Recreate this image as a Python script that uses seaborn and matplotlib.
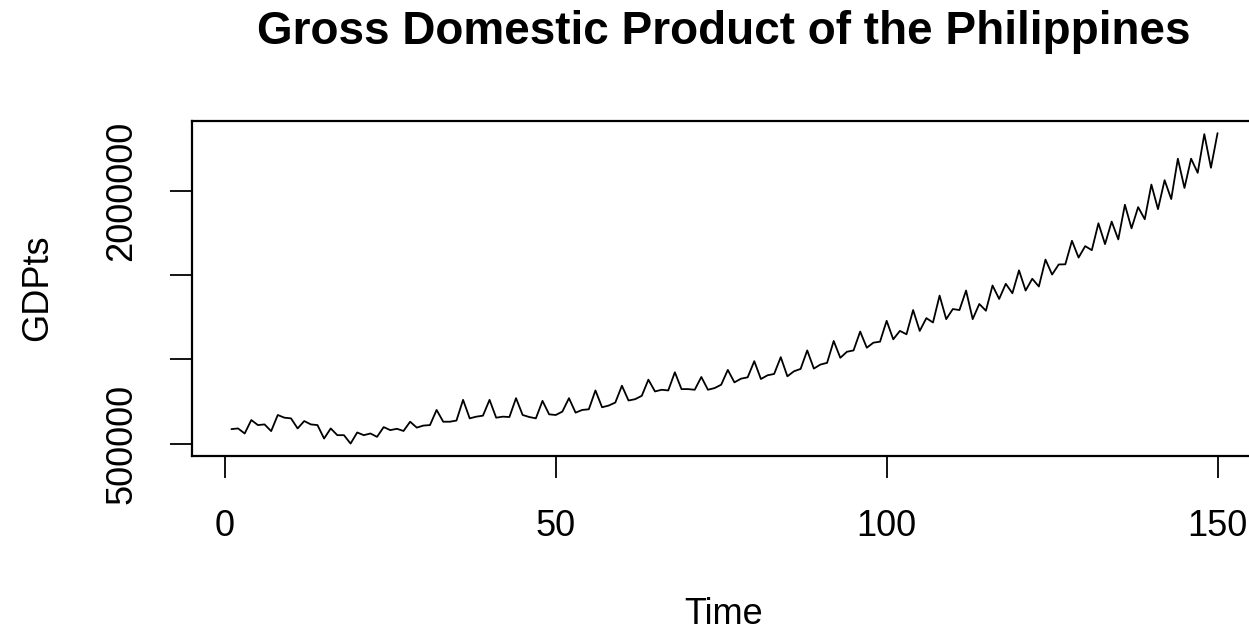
import numpy as np
import pandas as pd
import matplotlib
matplotlib.use("Agg")
import matplotlib.pyplot as plt
import seaborn as sns
from matplotlib import font_manager

# ---- data (GDP, thousands) ----
gdp_thousands = [
    586, 590, 560, 640, 610, 614, 574, 670, 654, 650, 590, 634,
    614, 610, 530, 590, 550, 550, 500, 566, 550, 560, 540, 598,
    580, 588, 575, 630, 595, 607, 610, 700, 630, 630, 637, 760,
    650, 660, 666, 760, 654, 660, 658, 770, 670, 658, 650, 754,
    674, 670, 690, 770, 684, 700, 704, 816, 716, 726, 744, 844,
    756, 764, 784, 880, 810, 820, 816, 924, 824, 824, 820, 896,
    820, 830, 850, 938, 864, 886, 894, 990, 884, 906, 914, 1014,
    900, 930, 944, 1054, 946, 970, 980, 1110, 1010, 1046, 1054, 1166,
    1070, 1100, 1106, 1230, 1120, 1170, 1150, 1294, 1170, 1246, 1220, 1380,
    1240, 1300, 1294, 1410, 1240, 1330, 1290, 1440, 1360, 1450, 1394, 1530,
    1410, 1480, 1434, 1594, 1505, 1565, 1566, 1706, 1606, 1674, 1650, 1810,
    1686, 1820, 1714, 1920, 1780, 1906, 1834, 2040, 1894, 2066, 1954, 2194,
    2020, 2194, 2110, 2340, 2140, 2346,
]
time_index = list(range(1, len(gdp_thousands) + 1))
x_ticks = [0, 50, 100, 150]
y_ticks = [500000, 1000000, 1500000, 2000000]
y_tick_labels = ["500000", "", "", "2000000"]
title = "Gross Domestic Product of the Philippines"
x_label = "Time"
y_label = "GDPts"

df = pd.DataFrame({"Time": time_index, "GDPts": np.array(gdp_thousands) * 1000})

sns.set_style("white")
names = {f.name for f in font_manager.fontManager.ttflist}
font = "Liberation Sans" if "Liberation Sans" in names else "DejaVu Sans"
plt.rcParams["font.family"] = [font, "DejaVu Sans"]
plt.rcParams["text.color"] = "black"
plt.rcParams["xtick.color"] = "black"
plt.rcParams["ytick.color"] = "black"

W, H = 1249, 632
fig = plt.figure(figsize=(W / 100, H / 100), dpi=100)
left_px, right_px, top_px, bot_px = 192, 1257, 120.7, 456
ax = fig.add_axes([left_px / W, 1 - bot_px / H, (right_px - left_px) / W, (bot_px - top_px) / H])

sns.lineplot(data=df, x="Time", y="GDPts", color="black", linewidth=1.3, ax=ax)

# R-style 4% padding
tmin, tmax = min(time_index), max(time_index)
pad_x = 0.04 * (tmax - tmin)
ax.set_xlim(tmin - pad_x, tmax + pad_x)
vmin, vmax = df["GDPts"].min(), df["GDPts"].max()
pad_y = 0.04 * (vmax - vmin)
ax.set_ylim(vmin - pad_y, vmax + pad_y)

ax.set_xticks(x_ticks)
ax.set_xticklabels([str(v) for v in x_ticks])
ax.set_yticks(y_ticks)
ax.set_yticklabels(y_tick_labels, rotation=90, va="center")
ax.set_xlabel("")
ax.set_ylabel("")

fs = 26
ax.tick_params(axis="both", which="major", bottom=True, left=True, direction="out",
               length=16, width=1.3, color="black", labelsize=fs, labelcolor="black")
ax.tick_params(axis="x", pad=22)
ax.tick_params(axis="y", pad=22)
for s in ax.spines.values():
    s.set_visible(True)
    s.set_color("black")
    s.set_linewidth(1.6)

fig.text(724 / W, 1 - 32 / H, title, ha="center", va="center",
         fontsize=33, fontweight="bold", color="black")
fig.text(724 / W, 1 - 615 / H, x_label, ha="center", va="center", fontsize=fs, color="black")
fig.text(38 / W, 1 - 288 / H, y_label, ha="center", va="center", rotation=90,
         fontsize=fs, color="black")

fig.savefig("out.png", dpi=100)
